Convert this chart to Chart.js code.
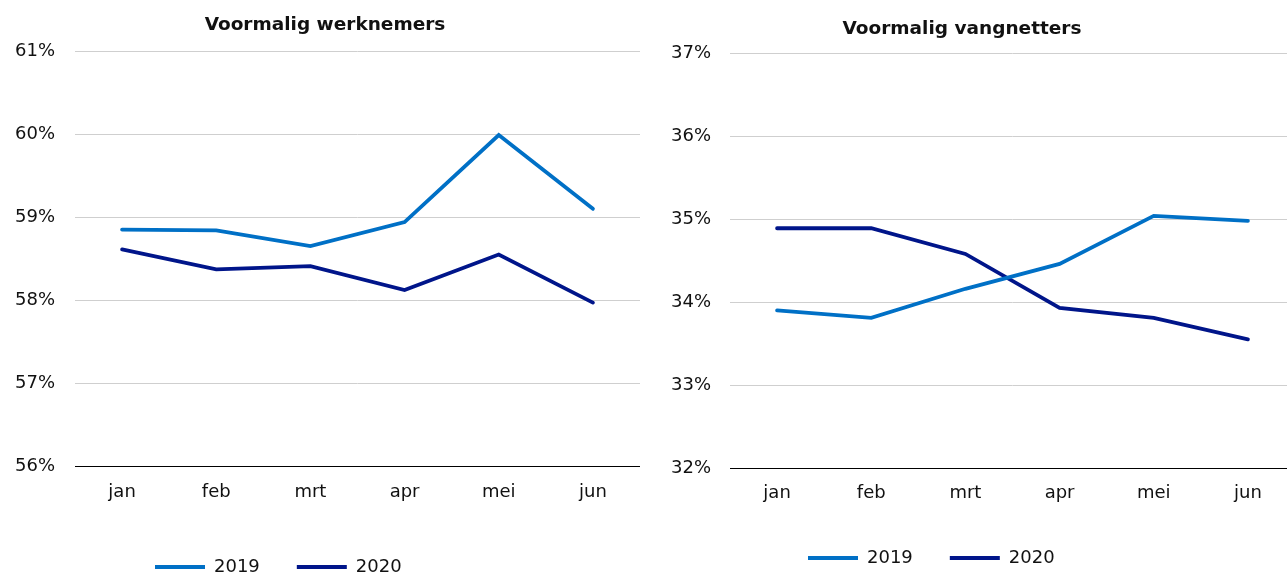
<!DOCTYPE html>
<html>
<head>
<meta charset="utf-8">
<script src="https://cdn.jsdelivr.net/npm/chart.js@4"></script>
<style>
  html, body { margin: 0; padding: 0; background: #fff; overflow: hidden; }
  body { width: 1287px; height: 574px; position: relative; }
  canvas { position: absolute; top: 0; }
</style>
</head>
<body>
<canvas id="chartWerknemers"></canvas>
<canvas id="chartVangnetters"></canvas>
<script>
/* global Chart */
// Maanden op de x-as
const months = ['jan', 'feb', 'mrt', 'apr', 'mei', 'jun']
const seriesLabels = ['2019', '2020']
// Voormalig werknemers (%)
const werknemers2019 = [58.85, 58.84, 58.65, 58.94, 59.99, 59.10]
const werknemers2020 = [58.61, 58.37, 58.41, 58.12, 58.55, 57.97]
// Voormalig vangnetters (%)
const vangnetters2019 = [33.90, 33.81, 34.16, 34.46, 35.04, 34.98]
const vangnetters2020 = [34.89, 34.89, 34.58, 33.93, 33.81, 33.55]
// As-bereik
const werknemersRange = [56, 61]
const vangnettersRange = [32, 37]

const color2019 = '#0070C6'
const color2020 = '#00158A'
const gridColor = '#cfcfcf'
const textColor = '#111111'

Chart.defaults.font.family = "'DejaVu Sans', Verdana, sans-serif"
Chart.defaults.font.size = 18
Chart.defaults.color = textColor

// legenda op een vaste plek zetten
const legendShift = {
  id: 'legendShift',
  afterLayout (chart, args, opts) {
    const lg = chart.legend
    if (lg && opts.x !== undefined) {
      lg.left = opts.x - lg.options.labels.padding
    }
  }
}

function makeChart (id, cfg) {
  const canvas = document.getElementById(id)
  canvas.width = cfg.width
  canvas.height = cfg.height
  canvas.style.left = cfg.left + 'px'
  canvas.style.width = cfg.width + 'px'
  canvas.style.height = cfg.height + 'px'
  const [min, max] = cfg.range
  return new Chart(canvas.getContext('2d'), {
    type: 'line',
    data: {
      labels: months,
      datasets: [
        {
          label: seriesLabels[0],
          data: cfg.data2019,
          borderColor: color2019,
          backgroundColor: color2019,
          borderWidth: 3.8,
          borderCapStyle: 'round',
          pointRadius: 0,
          tension: 0
        },
        {
          label: seriesLabels[1],
          data: cfg.data2020,
          borderColor: color2020,
          backgroundColor: color2020,
          borderWidth: 3.8,
          borderCapStyle: 'round',
          pointRadius: 0,
          tension: 0
        }
      ]
    },
    plugins: [legendShift],
    options: {
      responsive: false,
      animation: false,
      devicePixelRatio: 1,
      layout: { padding: 0 },
      plugins: {
        title: {
          display: true,
          text: cfg.title,
          color: textColor,
          font: { size: 18.5, weight: 'bold' },
          padding: cfg.titlePadding
        },
        legend: {
          position: 'bottom',
          align: 'start',
          labels: {
            usePointStyle: true,
            pointStyle: 'line',
            pointStyleWidth: 50,
            padding: 37,
            color: textColor,
            font: { size: 18 }
          }
        },
        legendShift: { x: cfg.legendX },
        tooltip: { enabled: false }
      },
      scales: {
        x: {
          offset: true,
          grid: { display: false, drawTicks: false },
          border: { display: true, color: '#000', width: 1 },
          ticks: { padding: cfg.xPad, color: textColor },
          afterFit: function (scale) { scale.height = cfg.xAxisHeight }
        },
        y: {
          min: min,
          max: max,
          grid: {
            drawTicks: false,
            color: ctx => (ctx.tick && ctx.tick.value === min ? '#000' : gridColor),
            lineWidth: 1
          },
          border: { display: false },
          ticks: {
            stepSize: 1,
            padding: cfg.yPad,
            color: textColor,
            callback: v => v + '%'
          },
          afterFit: function (scale) { scale.width = cfg.yAxisWidth }
        }
      }
    }
  })
}

makeChart('chartWerknemers', {
  title: 'Voormalig werknemers',
  data2019: werknemers2019,
  data2020: werknemers2020,
  range: werknemersRange,
  left: 10,
  width: 630,
  height: 586,
  yAxisWidth: 65,
  xAxisHeight: 55,
  titlePadding: { top: 14, bottom: 15 },
  xPad: 16,
  yPad: 20,
  legendX: 145
})

makeChart('chartVangnetters', {
  title: 'Voormalig vangnetters',
  data2019: vangnetters2019,
  data2020: vangnetters2020,
  range: vangnettersRange,
  left: 629,
  width: 666,
  height: 577,
  yAxisWidth: 101,
  xAxisHeight: 44,
  titlePadding: { top: 18, bottom: 13 },
  xPad: 15,
  yPad: 19,
  legendX: 179
})
</script>
</body>
</html>
